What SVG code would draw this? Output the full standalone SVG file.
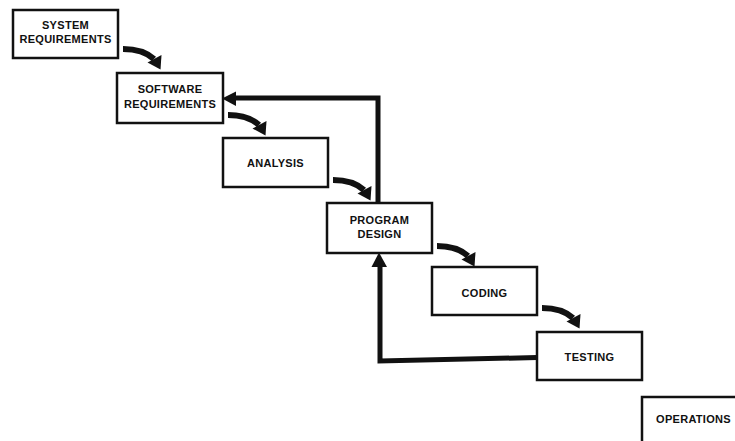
<svg xmlns="http://www.w3.org/2000/svg" width="735" height="441" viewBox="0 0 735 441">
  <style>
    .box { fill: #fff; stroke: #111; stroke-width: 2.5; }
    .lbl { font-family: "Liberation Sans", Arial, sans-serif; font-weight: bold; font-size: 11px; fill: #111; text-anchor: middle; letter-spacing: 0.3px; }
    .flow { fill: none; stroke: #111; stroke-width: 6; }
    .fb { fill: none; stroke: #111; stroke-width: 5; stroke-linejoin: miter; }
    .head { fill: #111; }
  </style>
  <defs>
    <!-- curved step arrow, origin at its tail -->
    <g id="step">
      <path class="flow" d="M0,0 Q20,0 31,10"/>
      <polygon class="head" points="24.5,13.5 38.5,6 37.5,20.5"/>
    </g>
  </defs>
  <rect width="735" height="441" fill="#fff"/>

  <g id="connectors">
    <use href="#step" transform="translate(123,49)"/>
    <use href="#step" transform="translate(228,115)"/>
    <use href="#step" transform="translate(333,180)"/>
    <use href="#step" transform="translate(437,246)"/>
    <use href="#step" transform="translate(542,308)"/>
    <!-- feedback: program design back to software requirements -->
    <polyline class="fb" points="378,203 378,98 234,98"/>
    <polygon class="head" points="222,98.5 236,91.5 236,106"/>
    <!-- feedback: testing back to program design -->
    <polyline class="fb" points="537,357.5 380,361 380,266"/>
    <polygon class="head" points="379,252.5 371.5,267 387,267"/>
  </g>

  <g id="system-requirements">
    <rect class="box" x="13" y="10" width="105" height="48"/>
    <text class="lbl" x="65.5" y="29">SYSTEM</text>
    <text class="lbl" x="65.5" y="43">REQUIREMENTS</text>
  </g>
  <g id="software-requirements">
    <rect class="box" x="117" y="73" width="106" height="50"/>
    <text class="lbl" x="170" y="93">SOFTWARE</text>
    <text class="lbl" x="170" y="108">REQUIREMENTS</text>
  </g>
  <g id="analysis">
    <rect class="box" x="223" y="138" width="105" height="49"/>
    <text class="lbl" x="275.5" y="167">ANALYSIS</text>
  </g>
  <g id="program-design">
    <rect class="box" x="327" y="203" width="105" height="50"/>
    <text class="lbl" x="379.5" y="224">PROGRAM</text>
    <text class="lbl" x="379.5" y="238">DESIGN</text>
  </g>
  <g id="coding">
    <rect class="box" x="432" y="267" width="105" height="48"/>
    <text class="lbl" x="484.5" y="297">CODING</text>
  </g>
  <g id="testing">
    <rect class="box" x="537" y="332" width="105" height="48"/>
    <text class="lbl" x="589.5" y="361">TESTING</text>
  </g>
  <g id="operations">
    <rect class="box" x="642" y="397" width="110" height="60"/>
    <text class="lbl" x="693.5" y="423">OPERATIONS</text>
  </g>
</svg>
